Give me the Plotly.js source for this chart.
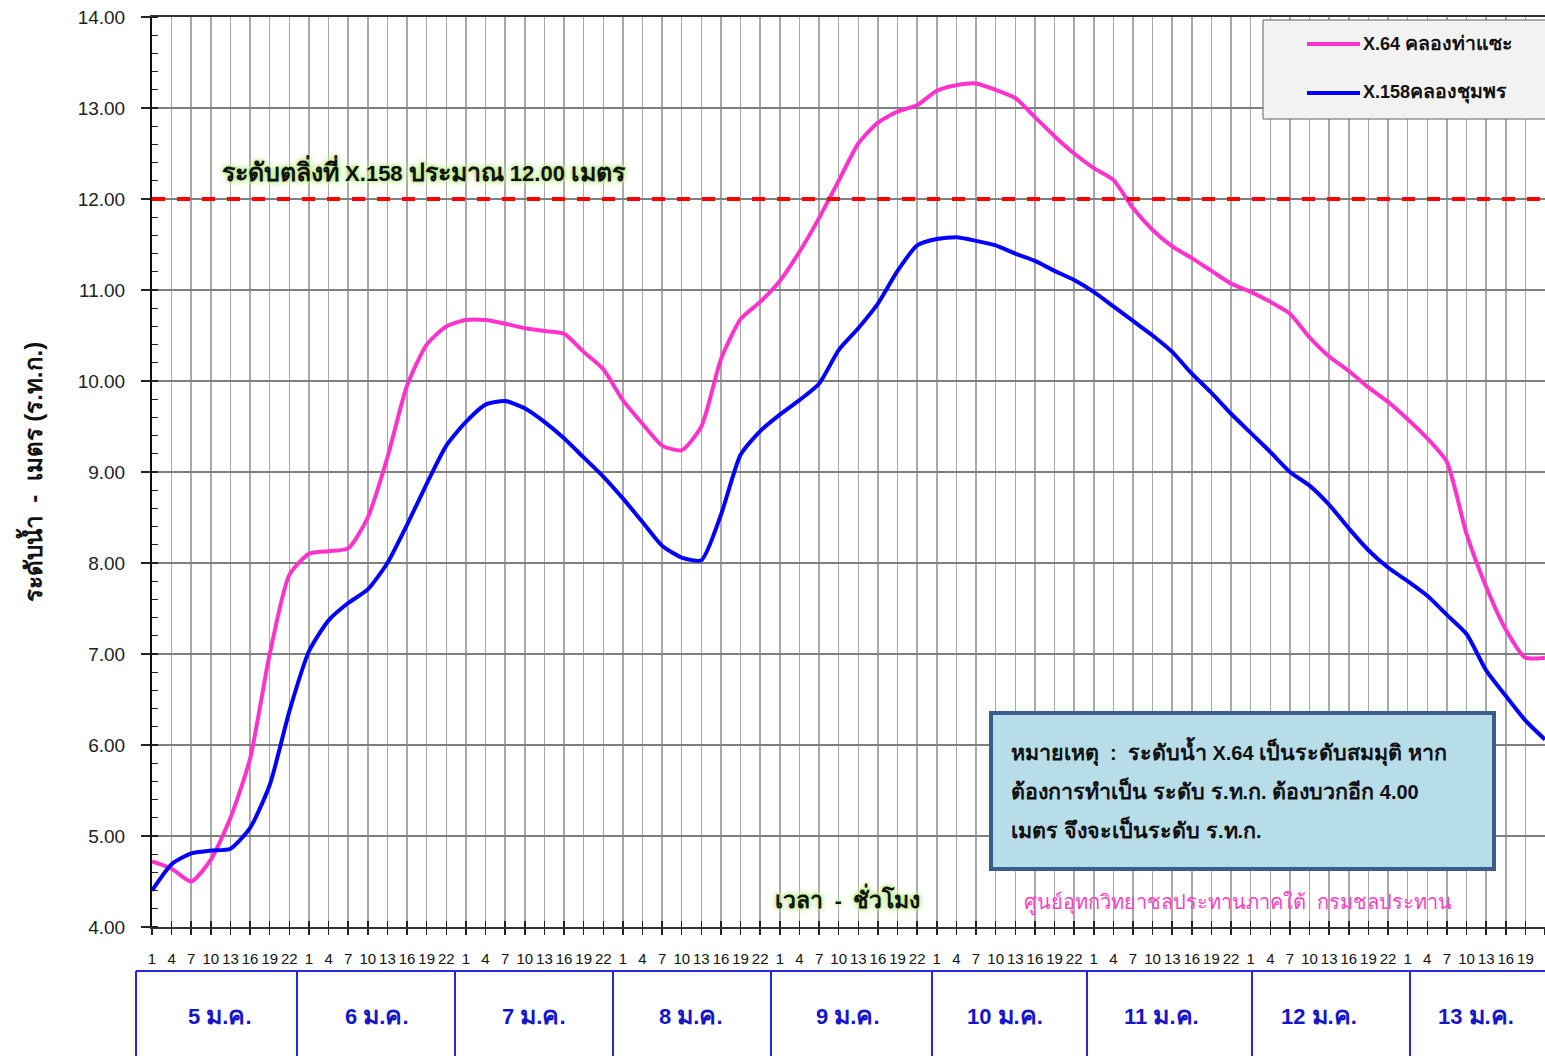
<!DOCTYPE html>
<html>
<head>
<meta charset="utf-8">
<script src="https://cdn.plot.ly/plotly-3.0.1.min.js"></script>
<style>
  html, body { margin: 0; padding: 0; background: #ffffff; }
  #chart { width: 1545px; height: 1056px; }
</style>
</head>
<body>
<div id="chart"></div>
<script>
// ---------------- DATA ----------------
const hourLabels = [1, 4, 7, 10, 13, 16, 19, 22];
const dayLabels = ['5 ม.ค.', '6 ม.ค.', '7 ม.ค.', '8 ม.ค.', '9 ม.ค.', '10 ม.ค.', '11 ม.ค.', '12 ม.ค.', '13 ม.ค.'];
const seriesNames = ['X.64 คลองท่าแซะ', 'X.158คลองชุมพร'];
// water level every 3 hours starting 5 Jan 01:00
const x64 = [
  4.72, 4.64, 4.50, 4.74, 5.20, 5.85, 7.00, 7.87,
  8.10, 8.13, 8.16, 8.50, 9.16, 9.95, 10.40, 10.60,
  10.67, 10.67, 10.63, 10.58, 10.55, 10.52, 10.32, 10.13,
  9.79, 9.53, 9.29, 9.24, 9.50, 10.24, 10.68, 10.87,
  11.10, 11.42, 11.79, 12.20, 12.61, 12.84, 12.96, 13.03,
  13.19, 13.25, 13.27, 13.20, 13.11, 12.90, 12.69, 12.50,
  12.34, 12.21, 11.90, 11.66, 11.48, 11.35, 11.21, 11.07,
  10.98, 10.87, 10.74, 10.48, 10.27, 10.11, 9.93, 9.77,
  9.58, 9.37, 9.11, 8.32, 7.74, 7.27, 6.96, 6.96
];
const x158 = [
  4.40, 4.69, 4.81, 4.84, 4.86, 5.09, 5.56, 6.37,
  7.03, 7.37, 7.56, 7.71, 8.00, 8.42, 8.87, 9.29,
  9.55, 9.74, 9.78, 9.70, 9.55, 9.37, 9.16, 8.95,
  8.71, 8.45, 8.19, 8.06, 8.03, 8.53, 9.19, 9.45,
  9.63, 9.79, 9.97, 10.34, 10.58, 10.85, 11.21, 11.49,
  11.56, 11.58, 11.54, 11.49, 11.40, 11.32, 11.21, 11.11,
  10.98, 10.82, 10.66, 10.50, 10.32, 10.08, 9.87, 9.64,
  9.43, 9.22, 9.00, 8.85, 8.64, 8.38, 8.14, 7.95,
  7.80, 7.64, 7.43, 7.22, 6.82, 6.54, 6.27, 6.06
];
const bankLevel = 12.00;
const bankText = 'ระดับตลิ่งที่ X.158 ประมาณ 12.00 เมตร';
const xTitle = 'เวลา  -  ชั่วโมง';
const yTitle = 'ระดับน้ำ  -  เมตร (ร.ท.ก.)';
const sourceText = 'ศูนย์อุทกวิทยาชลประทานภาคใต้  กรมชลประทาน';
const noteLines = [
  'หมายเหตุ  :  ระดับน้ำ X.64 เป็นระดับสมมุติ หาก',
  'ต้องการทำเป็น ระดับ ร.ท.ก. ต้องบวกอีก 4.00',
  'เมตร จึงจะเป็นระดับ ร.ท.ก.'
];

// ---------------- LAYOUT HELPERS ----------------
const STEP = 3; // hours between readings
const times = x64.map((_, i) => i * STEP);
const tickVals = times.slice();
const tickText = times.map((_, i) => String(hourLabels[i % hourLabels.length]));
const XMAX = times[times.length - 1];

const W = 1545, H = 1056;
const M = { l: 152, r: 0, t: 17, b: 129 };
const PW = W - M.l - M.r, PH = H - M.t - M.b;
const px2x = p => (p - M.l) / PW;
const py2y = p => (H - M.b - p) / PH;

const FONT = 'Arial, "Liberation Sans", Tahoma, sans-serif';
const glow = '0 0 2px #b9e88a, 0 0 4px #b9e88a, 0 0 6px #c4ee98, 0 0 8px #d2f3ad';
// Thai glyphs come from a fallback font that runs small: size Thai and Latin runs separately
const mix = (t, thaiSize, latinSize) => t.split(/([\u0E00-\u0E7F]+(?:[ ]+[\u0E00-\u0E7F]+)*)/)
  .filter(s => s.length)
  .map(s => '<span style="font-size:' + (/[\u0E00-\u0E7F]/.test(s) ? thaiSize : latinSize) + 'px">' + s + '</span>')
  .join('');

const traces = [
  { x: times, y: x64, name: seriesNames[0], type: 'scatter', mode: 'lines',
    line: { color: '#ff33cc', width: 4, shape: 'spline', smoothing: 0.6 }, showlegend: false },
  { x: times, y: x158, name: seriesNames[1], type: 'scatter', mode: 'lines',
    line: { color: '#0000ff', width: 4, shape: 'spline', smoothing: 0.6 }, showlegend: false },
  { x: [0], y: [null], xaxis: 'x2', yaxis: 'y', showlegend: false, hoverinfo: 'skip', mode: 'lines' }
];

const shapes = [];
// bank level dashed line
shapes.push({ type: 'line', xref: 'paper', x0: 0, x1: 1, yref: 'y', y0: bankLevel, y1: bankLevel,
  line: { color: '#ff0000', width: 4, dash: '13px,12px' }, layer: 'above' });

// legend box
shapes.push({ type: 'rect', xref: 'paper', yref: 'paper', x0: px2x(1263), x1: px2x(1560),
  y0: py2y(119), y1: py2y(20), fillcolor: '#f2f2f2', line: { color: '#606060', width: 1 }, layer: 'above' });
shapes.push({ type: 'line', xref: 'paper', yref: 'paper', x0: px2x(1307), x1: px2x(1360),
  y0: py2y(44), y1: py2y(44), line: { color: '#ff33cc', width: 4 }, layer: 'above' });
shapes.push({ type: 'line', xref: 'paper', yref: 'paper', x0: px2x(1307), x1: px2x(1360),
  y0: py2y(93), y1: py2y(93), line: { color: '#0000ff', width: 4 }, layer: 'above' });

// note box
shapes.push({ type: 'rect', xref: 'paper', yref: 'paper', x0: px2x(991), x1: px2x(1494),
  y0: py2y(869), y1: py2y(713), fillcolor: '#b7dde8', line: { color: '#3a5d8c', width: 4 }, layer: 'above' });

// day table below chart
const tableTop = py2y(971), tableBot = py2y(1060);
shapes.push({ type: 'line', xref: 'paper', yref: 'paper', x0: px2x(136), x1: px2x(1560),
  y0: tableTop, y1: tableTop, line: { color: '#2828d8', width: 2 } });
const dayEdgePx = [136, 297, 455, 613, 771, 932, 1087, 1252, 1410];
dayEdgePx.forEach(p => shapes.push({ type: 'line', xref: 'paper', yref: 'paper', x0: px2x(p), x1: px2x(p),
  y0: tableTop, y1: tableBot, line: { color: '#2828d8', width: 2 } }));

const annotations = [];
const ann = (o) => annotations.push(Object.assign({ xref: 'paper', yref: 'paper', showarrow: false,
  xanchor: 'center', yanchor: 'middle', align: 'left' }, o));

ann({ text: '<b>' + mix(bankText, 25, 22) + '</b>', x: px2x(424), y: py2y(171),
  font: { family: FONT, size: 22, color: '#111', shadow: glow } });
ann({ text: '<b>' + mix(xTitle, 23, 21) + '</b>', x: px2x(847), y: py2y(898),
  font: { family: FONT, size: 21, color: '#111', shadow: glow } });
ann({ text: mix(sourceText, 20, 18), x: px2x(1238), y: py2y(903),
  font: { family: FONT, size: 18, color: '#ff3fbf' } });
noteLines.forEach((t, i) => ann({ text: '<b>' + mix(t, 21.5, 20) + '</b>',
  x: px2x(1009), y: py2y(751 + i * 39), xanchor: 'left',
  font: { family: FONT, size: 20, color: '#111' } }));
seriesNames.forEach((t, i) => ann({ text: '<b>' + mix(t, 19.5, 18) + '</b>',
  x: px2x(1361), y: py2y(43 + i * 49), xanchor: 'left',
  font: { family: FONT, size: 18, color: '#111' } }));
dayLabels.forEach((t, d) => ann({ text: '<b>' + mix(t, 25, 22) + '</b>', xref: 'x',
  x: d * 24 + 10.4, y: py2y(1015),
  font: { family: FONT, size: 22, color: '#1616c8' } }));

const layout = {
  width: W, height: H,
  margin: M,
  paper_bgcolor: '#ffffff', plot_bgcolor: '#ffffff',
  showlegend: false,
  font: { family: FONT, color: '#111' },
  xaxis: {
    range: [0, XMAX], tickmode: 'array', tickvals: tickVals, ticktext: tickText,
    showgrid: true, gridcolor: '#a8a8a8', gridwidth: 1.5,
    ticks: 'outside', ticklen: 6, tickwidth: 1.5, tickcolor: '#222',
    showline: true, linecolor: '#333', linewidth: 2, mirror: true,
    tickfont: { family: FONT, size: 15, color: '#111' }, ticklabelstandoff: 11,
    zeroline: false, fixedrange: true
  },
  xaxis2: {
    overlaying: 'x', matches: 'x', anchor: 'y', side: 'bottom',
    tickmode: 'array', tickvals: tickVals, ticks: 'inside', ticklen: 6, tickwidth: 1.5, tickcolor: '#222',
    showticklabels: false, showgrid: false, showline: false, zeroline: false
  },
  yaxis: {
    range: [4, 14], dtick: 1, tick0: 4, tickformat: '.2f',
    showgrid: true, gridcolor: '#7f7f7f', gridwidth: 1.3,
    ticks: 'outside', ticklen: 9, tickwidth: 1.3, tickcolor: '#222',
    showline: true, linecolor: '#111', linewidth: 2,
    minor: { dtick: 0.2, ticks: 'inside', ticklen: 6, tickwidth: 1.2, tickcolor: '#222', showgrid: false },
    tickfont: { family: FONT, size: 19, color: '#222' }, ticklabelstandoff: 12,
    title: { text: '<b>' + yTitle + '</b>', font: { family: FONT, size: 24, color: '#111' }, standoff: 28 },
    zeroline: false, fixedrange: true
  },
  shapes: shapes,
  annotations: annotations
};

Plotly.newPlot('chart', traces, layout, { staticPlot: true, displayModeBar: false });
</script>
</body>
</html>
